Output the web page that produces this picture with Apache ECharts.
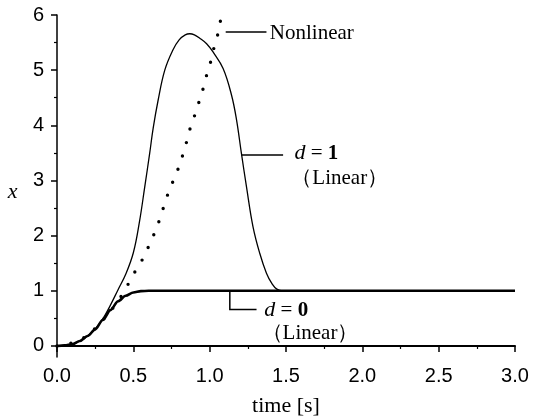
<!DOCTYPE html>
<html>
<head>
<meta charset="utf-8">
<script src="https://cdn.jsdelivr.net/npm/echarts@6/dist/echarts.min.js"></script>
<style>
html,body{margin:0;padding:0;background:#fff;}
#chart{width:533px;height:418px;}
</style>
</head>
<body>
<div id="chart"></div>
<script>
// ---- data ----
const tD0 = [0, 0.05, 0.1, 0.15, 0.2, 0.25, 0.3, 0.35, 0.4, 0.45, 0.5, 0.55, 0.6, 3.0];
const xD0 = [0, 0.01, 0.03, 0.09, 0.18, 0.3, 0.47, 0.65, 0.81, 0.91, 0.97, 0.995, 1.0, 1.0];

const tD1 = [0, 0.05, 0.1, 0.15, 0.2, 0.25, 0.3, 0.35, 0.4, 0.45, 0.5, 0.54, 0.575, 0.607, 0.63, 0.662, 0.706, 0.76, 0.8, 0.84, 0.87, 0.9, 0.935, 0.98, 1.022, 1.088, 1.143, 1.176, 1.208, 1.241, 1.284, 1.328, 1.372, 1.41, 1.44, 1.48, 3.0];
const xD1 = [0, 0.01, 0.03, 0.09, 0.18, 0.31, 0.49, 0.74, 1.02, 1.3, 1.69, 2.25, 2.89, 3.49, 3.95, 4.45, 5.0, 5.37, 5.55, 5.64, 5.66, 5.64, 5.58, 5.48, 5.33, 5.03, 4.55, 4.1, 3.49, 2.89, 2.16, 1.68, 1.32, 1.12, 1.03, 1.0, 1.0];

const tNL = [0, 0.1, 0.2, 0.28, 0.35, 0.42, 0.47, 0.52, 0.57, 0.61, 0.65, 0.68, 0.71, 0.74, 0.78, 0.81, 0.84, 0.86, 0.89, 0.92, 0.95, 0.97, 1.0, 1.02, 1.04, 1.055, 1.066, 1.077];
const xNL = [0, 0.06, 0.19, 0.41, 0.63, 0.9, 1.14, 1.39, 1.62, 1.87, 2.12, 2.36, 2.62, 2.86, 3.11, 3.35, 3.6, 3.84, 4.08, 4.34, 4.59, 4.82, 5.08, 5.32, 5.52, 5.67, 5.82, 6.0];

const xTicks = [0, 0.5, 1.0, 1.5, 2.0, 2.5, 3.0];
const yTicks = [0, 1, 2, 3, 4, 5, 6];
const yMinorTicks = [0.5, 1.5, 2.5, 3.5, 4.5, 5.5];

const xName = 'time [s]';
const yName = 'x';
const labelNonlinear = 'Nonlinear';
const labelD1 = ['d', '1'];
const labelD0 = ['d', '0'];
const labelLinear = '（Linear）';

// annotation anchor positions in data coordinates
const leaderNL = [[1.105, 5.69], [1.372, 5.69]];
const leaderD1 = [[1.208, 3.46], [1.481, 3.46]];
const leaderD0 = [[1.132, 1.0], [1.132, 0.66], [1.307, 0.66]];
const posNL = [1.394, 5.66];
const posD1 = [1.555, 3.49];
const posD1b = [1.535, 3.04];
const posD0 = [1.358, 0.65];
const posD0b = [1.34, 0.23];
const posYName = [-0.29, 2.78];

const zip = (a, b) => a.map((v, i) => [v, b[i]]);

const chart = echarts.init(document.getElementById('chart'), null, {renderer: 'canvas'});
const serif = 'Liberation Serif, Times New Roman, serif';
const sans = 'Liberation Sans, Arial, sans-serif';

chart.setOption({
  animation: false,
  backgroundColor: '#fff',
  grid: {left: 57, right: 18, top: 15, bottom: 61, containLabel: false, outerBoundsMode: 'none'},
  xAxis: {
    type: 'value', min: 0, max: 3, interval: 0.5,
    name: xName, nameLocation: 'middle', nameGap: 38,
    nameTextStyle: {fontFamily: serif, fontSize: 22, color: '#000'},
    axisLine: {show: true, lineStyle: {color: '#000', width: 2}},
    axisTick: {show: true, inside: false, length: 6, lineStyle: {color: '#000', width: 1.5}},
    minorTick: {show: true, splitNumber: 2, length: 3, lineStyle: {color: '#000', width: 1.2}},
    axisLabel: {fontFamily: sans, fontSize: 20, color: '#000', margin: 9,
      formatter: v => v.toFixed(1)},
    splitLine: {show: false}
  },
  yAxis: [{
    type: 'value', min: -0.2, max: 6, position: 'left',
    axisLine: {show: true, onZero: false, lineStyle: {color: '#000', width: 1.5}},
    axisTick: {show: true, inside: false, length: 6, customValues: yTicks, lineStyle: {color: '#000', width: 1.5}},
    axisLabel: {fontFamily: sans, fontSize: 20, color: '#000', margin: 13, customValues: yTicks},
    splitLine: {show: false}
  }, {
    type: 'value', min: -0.2, max: 6, position: 'left', offset: 0,
    axisLine: {show: false},
    axisTick: {show: true, inside: false, length: 3, customValues: yMinorTicks, lineStyle: {color: '#000', width: 1.2}},
    axisLabel: {show: false},
    splitLine: {show: false}
  }],
  series: [
    {type: 'line', name: 'd=1', data: zip(tD1, xD1), showSymbol: false, smooth: 0.4,
      lineStyle: {color: '#000', width: 1.3}},
    {type: 'line', name: 'd=0', data: zip(tD0, xD0), showSymbol: false, smooth: 0.3, smoothMonotone: 'x',
      lineStyle: {color: '#000', width: 2.6}},
    {type: 'line', name: 'Nonlinear', data: zip(tNL, xNL), showSymbol: false, smooth: 0.3,
      lineStyle: {color: '#000', width: 3.4, type: [0, 14], cap: 'round'}}
  ]
});

function px(p) { return chart.convertToPixel({xAxisIndex: 0, yAxisIndex: 0}, p); }
function poly(pts) {
  return {type: 'polyline', shape: {points: pts.map(px)}, style: {stroke: '#000', lineWidth: 1.5, fill: null}, silent: true};
}
function txt(p, text, rich, align) {
  const q = px(p);
  return {type: 'text', x: q[0], y: q[1], silent: true,
    style: {text: text, fontFamily: serif, fontSize: 21, fill: '#000', align: align || 'left', verticalAlign: 'middle', rich: rich}};
}
const richD = {
  i: {fontFamily: serif, fontStyle: 'italic', fontSize: 22, fill: '#000'},
  e: {fontFamily: serif, fontSize: 21, fill: '#000'},
  b: {fontFamily: serif, fontWeight: 'bold', fontSize: 21, fill: '#000'}
};
chart.setOption({
  graphic: [
    poly(leaderNL), poly(leaderD1), poly(leaderD0),
    txt(posNL, labelNonlinear),
    txt(posD1, '{i|' + labelD1[0] + '}{e| = }{b|' + labelD1[1] + '}', richD),
    txt(posD1b, labelLinear),
    txt(posD0, '{i|' + labelD0[0] + '}{e| = }{b|' + labelD0[1] + '}', richD),
    txt(posD0b, labelLinear),
    txt(posYName, '{i|' + yName + '}', richD, 'center')
  ]
});
</script>
</body>
</html>
